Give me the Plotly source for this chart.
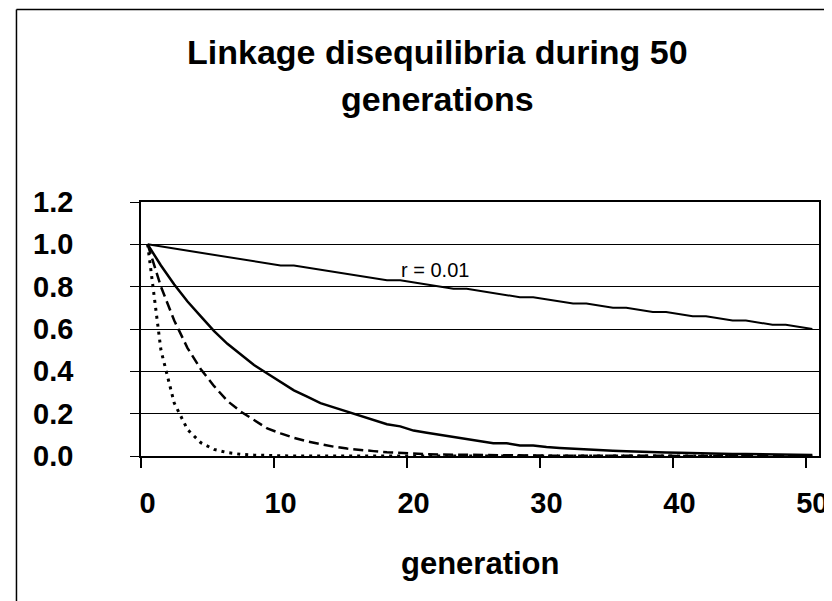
import plotly.graph_objects as go

# ---- data ----
generations = [0, 1, 2, 3, 4, 5, 6, 7, 8, 9, 10, 11, 12, 13, 14, 15, 16, 17, 18, 19, 20,
               21, 22, 23, 24, 25, 26, 27, 28, 29, 30, 31, 32, 33, 34, 35, 36, 37, 38, 39, 40,
               41, 42, 43, 44, 45, 46, 47, 48, 49, 50]

d_r001 = [1.00, 0.99, 0.98, 0.97, 0.96, 0.95, 0.94, 0.93, 0.92, 0.91, 0.90,
          0.90, 0.89, 0.88, 0.87, 0.86, 0.85, 0.84, 0.83, 0.83, 0.82,
          0.81, 0.80, 0.79, 0.79, 0.78, 0.77, 0.76, 0.75, 0.75, 0.74,
          0.73, 0.72, 0.72, 0.71, 0.70, 0.70, 0.69, 0.68, 0.68, 0.67,
          0.66, 0.66, 0.65, 0.64, 0.64, 0.63, 0.62, 0.62, 0.61, 0.60]

d_r01 = [1.00, 0.90, 0.81, 0.73, 0.66, 0.59, 0.53, 0.48, 0.43, 0.39, 0.35,
         0.31, 0.28, 0.25, 0.23, 0.21, 0.19, 0.17, 0.15, 0.14, 0.12,
         0.11, 0.10, 0.09, 0.08, 0.07, 0.06, 0.06, 0.05, 0.05, 0.042,
         0.038, 0.034, 0.031, 0.028, 0.025, 0.023, 0.020, 0.018, 0.016, 0.015,
         0.013, 0.012, 0.011, 0.010, 0.009, 0.008, 0.008, 0.006, 0.006, 0.005]

d_r02 = [1.00, 0.80, 0.64, 0.51, 0.41, 0.33, 0.26, 0.21, 0.17, 0.13, 0.107,
         0.086, 0.069, 0.055, 0.044, 0.035, 0.028, 0.023, 0.018, 0.014, 0.012,
         0.009, 0.007, 0.006, 0.005, 0.004, 0.003, 0.002, 0.002, 0.002, 0.001,
         0.001, 0.001, 0.001, 0.0, 0.0, 0.0, 0.0, 0.0, 0.0, 0.0,
         0.0, 0.0, 0.0, 0.0, 0.0, 0.0, 0.0, 0.0, 0.0, 0.0]

d_r05 = [1.00, 0.50, 0.25, 0.125, 0.063, 0.031, 0.016, 0.008, 0.004, 0.002, 0.001,
         0.0, 0.0, 0.0, 0.0, 0.0, 0.0, 0.0, 0.0, 0.0, 0.0,
         0.0, 0.0, 0.0, 0.0, 0.0, 0.0, 0.0, 0.0, 0.0, 0.0,
         0.0, 0.0, 0.0, 0.0, 0.0, 0.0, 0.0, 0.0, 0.0, 0.0,
         0.0, 0.0, 0.0, 0.0, 0.0, 0.0, 0.0, 0.0, 0.0, 0.0]

x_tick_values = [0, 10, 20, 30, 40, 50]
x_tick_labels = ["0", "10", "20", "30", "40", "50"]
y_tick_values = [0.0, 0.2, 0.4, 0.6, 0.8, 1.0, 1.2]
y_tick_labels = ["0.0", "0.2", "0.4", "0.6", "0.8", "1.0", "1.2"]

title_line1 = "Linkage disequilibria during 50"
title_line2 = "generations"
x_title = "generation"
curve_label = "r = 0.01"

FONT = "Liberation Sans, Arial, sans-serif"

fig = go.Figure()
fig.add_trace(go.Scatter(x=generations, y=d_r001, mode="lines",
                         line=dict(color="black", width=2), name="r = 0.01"))
fig.add_trace(go.Scatter(x=generations, y=d_r01, mode="lines",
                         line=dict(color="black", width=2.5), name="r = 0.1"))
fig.add_trace(go.Scatter(x=generations, y=d_r02, mode="lines",
                         line=dict(color="black", width=2.5, dash="10px,5px"), name="r = 0.2"))
fig.add_trace(go.Scatter(x=generations, y=d_r05, mode="lines",
                         line=dict(color="black", width=3, dash="3px,5px"), name="r = 0.5"))

boundary_ticks = [v - 0.5 for v in x_tick_values]

fig.update_layout(
    width=832, height=601,
    margin=dict(l=133, r=13, t=194, b=153),
    paper_bgcolor="white", plot_bgcolor="white",
    showlegend=False,
    font=dict(family=FONT, color="black"),
)

fig.update_xaxes(
    range=[-0.5, 50.5],
    tickmode="array", tickvals=x_tick_values, ticktext=x_tick_labels,
    ticks="", showgrid=False, zeroline=False,
    showline=True, linecolor="black", linewidth=1.5, mirror=True,
    tickfont=dict(family=FONT, size=29, color="black", weight="bold"),
    ticklabelstandoff=20,
    minor=dict(tickmode="array", tickvals=boundary_ticks, ticks="outside",
               ticklen=10, tickwidth=1.5, tickcolor="black", showgrid=False),
)

fig.update_yaxes(
    range=[0, 1.2],
    tickmode="array", tickvals=y_tick_values, ticktext=y_tick_labels,
    ticks="outside", ticklen=9, tickwidth=1.2, tickcolor="black",
    showgrid=True, gridcolor="black", gridwidth=1.2, zeroline=False,
    showline=True, linecolor="black", linewidth=1.5, mirror=True,
    tickfont=dict(family=FONT, size=29, color="black", weight="bold"),
    ticklabelstandoff=51,
)

def px_x(px):
    return (px - 133) / 686.0

def px_y(py):
    return (448 - py) / 254.0

fig.add_annotation(text=title_line1, xref="paper", yref="paper",
                   x=px_x(433), y=px_y(44), xanchor="center", yanchor="middle",
                   showarrow=False,
                   font=dict(family=FONT, size=34, color="black", weight="bold"))
fig.add_annotation(text=title_line2, xref="paper", yref="paper",
                   x=px_x(433), y=px_y(91), xanchor="center", yanchor="middle",
                   showarrow=False,
                   font=dict(family=FONT, size=34, color="black", weight="bold"))
fig.add_annotation(text=x_title, xref="paper", yref="paper",
                   x=0.5, y=px_y(555), xanchor="center", yanchor="middle",
                   showarrow=False,
                   font=dict(family=FONT, size=31, color="black", weight="bold"))
fig.add_annotation(text=curve_label, xref="x", yref="y",
                   x=21.6, y=0.879, xanchor="center", yanchor="middle",
                   showarrow=False,
                   font=dict(family=FONT, size=20, color="black"))

# chart-area border (left and top edges visible)
fig.add_shape(type="line", xref="paper", yref="paper",
              x0=px_x(7), y0=px_y(1.5), x1=px_x(832), y1=px_y(1.5),
              line=dict(color="black", width=1.5))
fig.add_shape(type="line", xref="paper", yref="paper",
              x0=px_x(7), y0=px_y(1.5), x1=px_x(7), y1=px_y(601),
              line=dict(color="black", width=1.5))

fig.write_html("out.html")
